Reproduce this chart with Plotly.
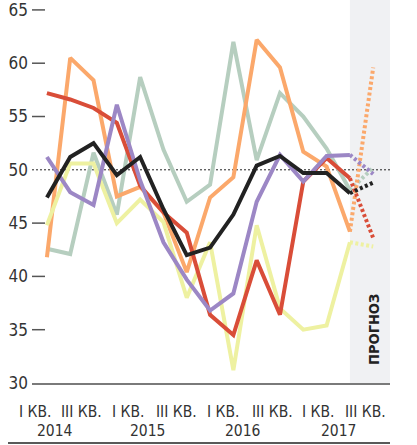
import plotly.graph_objects as go

# ---- data ----
quarters = list(range(14))          # I кв. 2014 ... II кв. 2017
forecast_q = [13, 14]               # II кв. 2017 -> III кв. 2017 (forecast)

green  = [42.6, 42.1, 51.6, 45.8, 58.7, 51.9, 47.0, 48.6, 62.0, 50.9, 57.2, 55.0, 52.0, 48.1]
green_fc = 50.2
orange = [41.8, 60.5, 58.4, 47.5, 48.4, 46.0, 40.4, 47.4, 49.3, 62.2, 59.6, 51.7, 50.3, 44.2]
orange_fc = 59.6
yellow = [44.8, 50.6, 50.6, 45.0, 47.2, 45.1, 38.0, 43.2, 31.2, 44.8, 37.0, 35.0, 35.4, 43.2]
yellow_fc = 42.8
red    = [57.2, 56.6, 55.8, 54.4, 48.5, 46.0, 44.1, 36.4, 34.5, 41.5, 36.4, 48.9, 51.1, 49.2]
red_fc = 43.6
purple = [51.2, 47.9, 46.7, 56.1, 49.0, 43.2, 39.7, 36.8, 38.4, 47.0, 51.4, 48.9, 51.3, 51.4]
purple_fc = 49.6
black  = [47.4, 51.2, 52.5, 49.5, 51.2, 46.3, 42.0, 42.7, 45.8, 50.4, 51.3, 49.7, 49.7, 47.8]
black_fc = 48.8

y_ticks = [30, 35, 40, 45, 50, 55, 60, 65]
dash_ticks = [35, 40, 45, 55, 60, 65]
quarter_labels = ["I КВ.", "III КВ.", "I КВ.", "III КВ.", "I КВ.", "III КВ.", "I КВ.", "III КВ."]
quarter_label_pos = [-0.52, 1.5, 3.48, 5.54, 7.55, 9.66, 11.63, 13.69]
year_labels = ["2014", "2015", "2016", "2017"]
year_label_pos = [0.34, 4.33, 8.41, 12.49]

series = [
    (green, green_fc, "#b6cebf"),
    (orange, orange_fc, "#fba86b"),
    (yellow, yellow_fc, "#eef1a1"),
    (red, red_fc, "#d94d38"),
    (purple, purple_fc, "#9c87c5"),
    (black, black_fc, "#222222"),
]

FONT = "Liberation Sans Narrow, Arial Narrow, DejaVu Sans Condensed, Roboto, sans-serif"

fig = go.Figure()
for vals, fc, col in series:
    fig.add_trace(go.Scatter(x=quarters, y=vals, mode="lines",
                             line=dict(color=col, width=4), hoverinfo="skip",
                             showlegend=False))
for vals, fc, col in series:
    fig.add_trace(go.Scatter(x=forecast_q, y=[vals[-1], fc], mode="lines",
                             line=dict(color=col, width=4, dash="3px,2.5px"),
                             hoverinfo="skip", showlegend=False))

shapes = []
# forecast shading
shapes.append(dict(type="rect", xref="x", yref="paper", x0=13, x1=14.72, y0=0, y1=1,
                   fillcolor="#f0f1f3", line=dict(width=0), layer="below"))
# dotted 50 line
shapes.append(dict(type="line", xref="paper", yref="y", x0=0, x1=1, y0=50, y1=50,
                   line=dict(color="#222222", width=1, dash="2px,2px"), layer="below"))
# short tick dashes
for v in dash_ticks:
    shapes.append(dict(type="line", xref="paper", yref="y", x0=0, x1=13 / 358, y0=v, y1=v,
                       line=dict(color="#555555", width=1.5)))
# bottom separator
shapes.append(dict(type="line", xref="paper", yref="paper", x0=-24 / 358, x1=1,
                   y0=-60 / 383, y1=-60 / 383, line=dict(color="#222222", width=1.5)))

annotations = []
for t, p in zip(quarter_labels, quarter_label_pos):
    annotations.append(dict(text=t, x=p, xref="x", y=-29 / 383, yref="paper",
                            showarrow=False, xanchor="center", yanchor="middle",
                            font=dict(family=FONT, size=15.5, color="#333333")))
for t, p in zip(year_labels, year_label_pos):
    annotations.append(dict(text=t, x=p, xref="x", y=-48 / 383, yref="paper",
                            showarrow=False, xanchor="center", yanchor="middle",
                            font=dict(family=FONT, size=15.5, color="#333333")))
annotations.append(dict(text="<b>ПРОГНОЗ</b>", x=14.0, xref="x", y=35.0, yref="y",
                        showarrow=False, textangle=-90, xanchor="center", yanchor="middle",
                        font=dict(family=FONT, size=14.5, color="#222222")))

fig.update_layout(
    width=417, height=445,
    margin=dict(l=32, r=27, t=0, b=62),
    paper_bgcolor="white", plot_bgcolor="white",
    shapes=shapes, annotations=annotations,
    xaxis=dict(range=[-0.64, 14.72], showgrid=False, zeroline=False,
               showticklabels=False, ticks="", showline=True, automargin=False,
               linecolor="#7a7a7a", linewidth=2),
    yaxis=dict(range=[30, 65.93], tickvals=y_ticks, showgrid=False, zeroline=False,
               ticks="", showline=False, automargin=False, ticklabelstandoff=3,
               ticklabeloverflow="allow",
               tickfont=dict(family=FONT, size=17, color="#333333")),
)

fig.write_html("out.html", config={"displayModeBar": False},
               post_script="document.body.style.margin='0';document.body.style.padding='0';")
